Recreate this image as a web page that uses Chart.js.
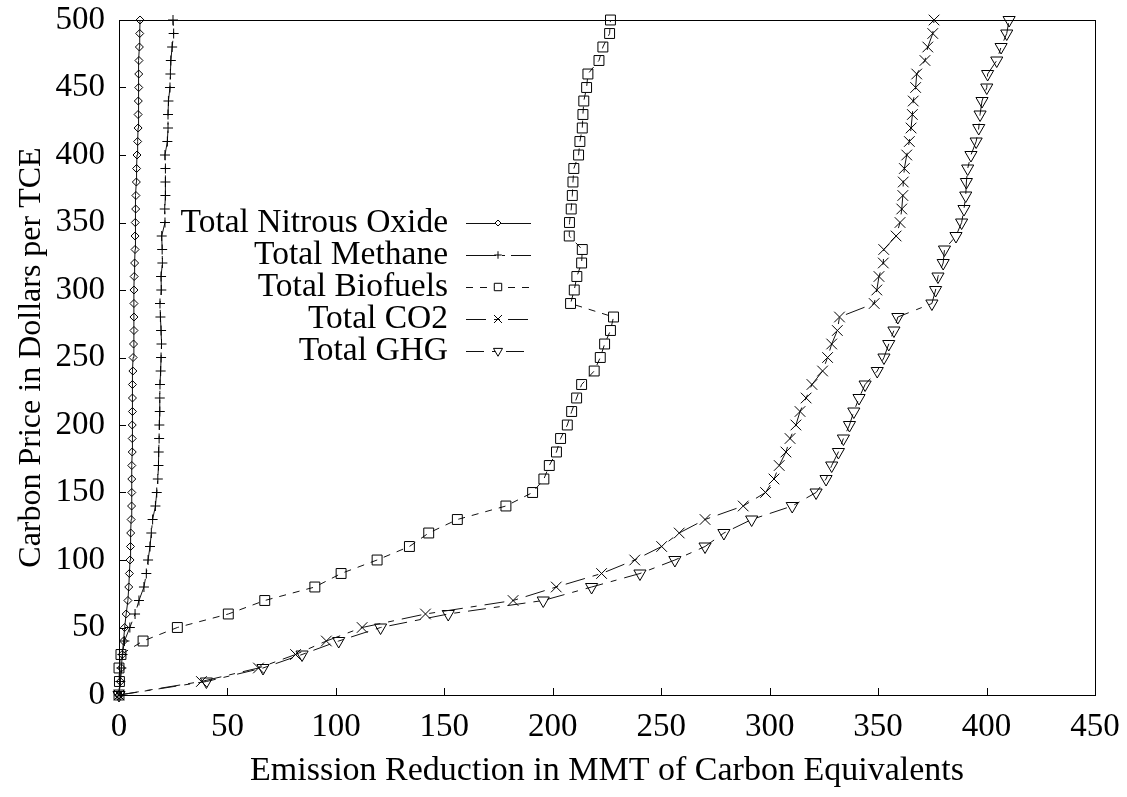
<!DOCTYPE html>
<html>
<head>
<meta charset="utf-8">
<script src="https://cdn.jsdelivr.net/npm/chart.js@4/dist/chart.umd.min.js"></script>
<style>
html,body{margin:0;padding:0;background:#fff;}
</style>
</head>
<body>
<canvas id="chart" width="1127" height="797"></canvas>
<script>
// carbon price steps (y) and emission reduction per gas (x)
const price = [0,10,20,30,40,50,60,70,80,90,100,110,120,130,140,150,160,170,180,190,200,
  210,220,230,240,250,260,270,280,290,300,310,320,330,340,350,360,370,380,390,400,
  410,420,430,440,450,460,470,480,490,500];

const nitrous = [0,0.6,1.1,1.5,2.1,2.6,3.3,4.1,4.5,4.8,5.1,5.3,5.4,5.6,5.8,5.9,5.9,5.9,6.1,6.1,6.1,
  6.2,6.2,6.2,6.4,6.5,6.7,6.9,6.9,6.9,6.9,7.0,7.2,7.4,7.4,7.5,7.7,7.8,8.0,8.1,8.3,
  8.6,8.8,8.8,8.9,9.1,9.1,9.2,9.4,9.55,9.7];

const methane = [0,0.6,1.1,1.6,2.5,5.0,7.4,9.2,11.5,12.6,13.4,14.3,14.9,15.5,16.8,17.4,17.9,18.2,18.3,18.5,18.6,
  18.8,18.8,18.9,19.2,19.4,19.6,19.4,19.1,18.9,19.5,19.4,20.0,19.9,19.7,21.2,21.1,21.4,21.4,21.4,21.2,
  22.3,22.6,22.6,22.8,23.5,23.7,23.9,24.5,25.2,24.9];

const biofuels = [0,0.2,0,0.9,11.1,26.9,50.4,67.2,90.3,102.4,119.0,133.9,142.8,156.0,178.4,190.7,195.9,198.4,201.7,203.6,206.7,
  208.7,211.0,213.3,219.1,221.9,223.9,226.6,228.0,208.2,209.9,211.1,213.3,213.6,207.6,207.7,208.5,209.0,209.3,209.7,211.9,
  212.5,213.6,213.9,214.3,215.6,216.2,221.3,223.1,226.2,226.6];

const co2 = [0,38.0,64.3,81.4,95.6,112.1,141.3,181.7,201.6,222.5,237.8,250.2,258.3,270.2,287.8,298.1,302.0,304.4,307.5,309.4,312.1,
  314.0,316.8,319.5,324.4,326.7,328.6,331.2,332.2,348.2,349.4,350.4,352.4,352.6,358.3,360.1,360.9,361.4,361.6,362.1,363.2,
  364.4,365.2,365.8,366.2,367.3,367.8,371.6,372.9,375.2,375.8];

const ghg = [0,40.3,66.4,84.4,101.3,120.6,151.8,195.6,217.9,240.2,256.3,270.2,278.9,291.7,310.4,321.4,326.0,328.6,331.7,334.0,336.8,
  338.8,341.2,344.0,349.6,352.7,354.9,357.3,359.1,374.8,376.5,377.6,380.0,380.6,385.9,388.5,389.6,390.4,390.7,391.3,392.8,
  395.2,396.4,397.0,397.9,400.1,400.5,404.7,406.7,409.3,410.4];

const FONT = "'Liberation Serif', 'Times New Roman', serif";

function xy(arr){
  return arr.map((v,i)=>({x:v, y:price[i]}));
}

function series(label, arr, style, radius, dash, rot){
  return {
    label: label,
    data: xy(arr),
    showLine: true,
    borderColor: "#111",
    borderWidth: 1,
    borderDash: dash,
    pointStyle: style,
    pointRadius: radius,
    pointRotation: rot || 0,
    pointBorderColor: "#000",
    pointBackgroundColor: "rgba(0,0,0,0)",
    pointBorderWidth: 1,
    tension: 0,
    clip: false
  };
}

// box, inward ticks, right-aligned legend like gnuplot
const decor = {
  id: "decor",
  beforeDatasetsDraw(chart){
    const ctx = chart.ctx, a = chart.chartArea;
    const xs = chart.scales.x, ys = chart.scales.y;
    ctx.save();
    ctx.strokeStyle = "#000";
    ctx.lineWidth = 1;
    ctx.strokeRect(a.left+0.5, a.top+0.5, a.right-a.left, a.bottom-a.top);
    ctx.beginPath();
    xs.ticks.forEach(t=>{
      const p = Math.round(xs.getPixelForValue(t.value))+0.5;
      ctx.moveTo(p, a.bottom); ctx.lineTo(p, a.bottom-7);
    });
    ys.ticks.forEach(t=>{
      const p = Math.round(ys.getPixelForValue(t.value))+0.5;
      ctx.moveTo(a.left, p); ctx.lineTo(a.left+7, p);
    });
    ctx.stroke();
    ctx.restore();
  },
  afterDraw(chart){
    const ctx = chart.ctx;
    const textRight = 448, lineL = 466, lineR = 531, mid = 498;
    ctx.save();
    ctx.font = "33.5px " + FONT;
    ctx.fillStyle = "#000";
    ctx.textAlign = "right";
    ctx.textBaseline = "middle";
    chart.data.datasets.forEach((ds,i)=>{
      const y = 223 + i*32;
      ctx.fillText(ds.label, textRight, y);
      ctx.save();
      ctx.strokeStyle = ds.borderColor;
      ctx.lineWidth = 1;
      ctx.setLineDash(ds.borderDash);
      ctx.beginPath();
      ctx.moveTo(lineL, y+0.5); ctx.lineTo(lineR, y+0.5);
      ctx.stroke();
      ctx.restore();
      if (Chart.helpers && Chart.helpers.drawPoint) {
        ctx.save();
        ctx.strokeStyle = "#000";
        ctx.fillStyle = "#fff";
        ctx.lineWidth = 1;
        Chart.helpers.drawPoint(ctx, {pointStyle: ds.pointStyle, radius: ds.pointRadius*0.75,
          rotation: ds.pointRotation, borderWidth: 1}, mid, y);
        ctx.restore();
      }
    });
    ctx.restore();
  }
};

function noPad(s){
  s.paddingTop = 0; s.paddingBottom = 0; s.paddingLeft = 0; s.paddingRight = 0;
}

new Chart(document.getElementById("chart"), {
  type: "scatter",
  data: {
    datasets: [
      series("Total Nitrous Oxide", nitrous, "rectRot", 4, []),
      series("Total Methane", methane, "cross", 5, [30,6,3,6]),
      series("Total Biofuels", biofuels, "rect", 7, [7,7]),
      series("Total CO2", co2, "crossRot", 7.5, [20,8,6,8]),
      series("Total GHG", ghg, "triangle", 7, [18,8,6,8], 180)
    ]
  },
  options: {
    responsive: false,
    animation: false,
    events: [],
    layout: {padding: {top: 20, right: 32, left: 0, bottom: 0}},
    plugins: {legend: {display: false}, tooltip: {enabled: false}},
    scales: {
      x: {
        type: "linear", min: 0, max: 450,
        ticks: {stepSize: 50, color: "#000", padding: 5, font: {family: FONT, size: 33}},
        grid: {display: false},
        border: {display: false},
        title: {display: true, text: "Emission Reduction in MMT of Carbon Equivalents", color: "#000",
          font: {family: FONT, size: 34}, padding: {top: 0, bottom: 6}},
        afterFit: s => { s.height = 102; noPad(s); }
      },
      y: {
        type: "linear", min: 0, max: 500,
        ticks: {stepSize: 50, color: "#000", padding: 6, font: {family: FONT, size: 33}},
        grid: {display: false},
        border: {display: false},
        title: {display: true, text: "Carbon Price in Dollars per TCE", color: "#000",
          font: {family: FONT, size: 32}, padding: {top: 12, bottom: 0}},
        afterFit: s => { s.width = 119; noPad(s); }
      }
    }
  },
  plugins: [decor]
});
</script>
</body>
</html>
